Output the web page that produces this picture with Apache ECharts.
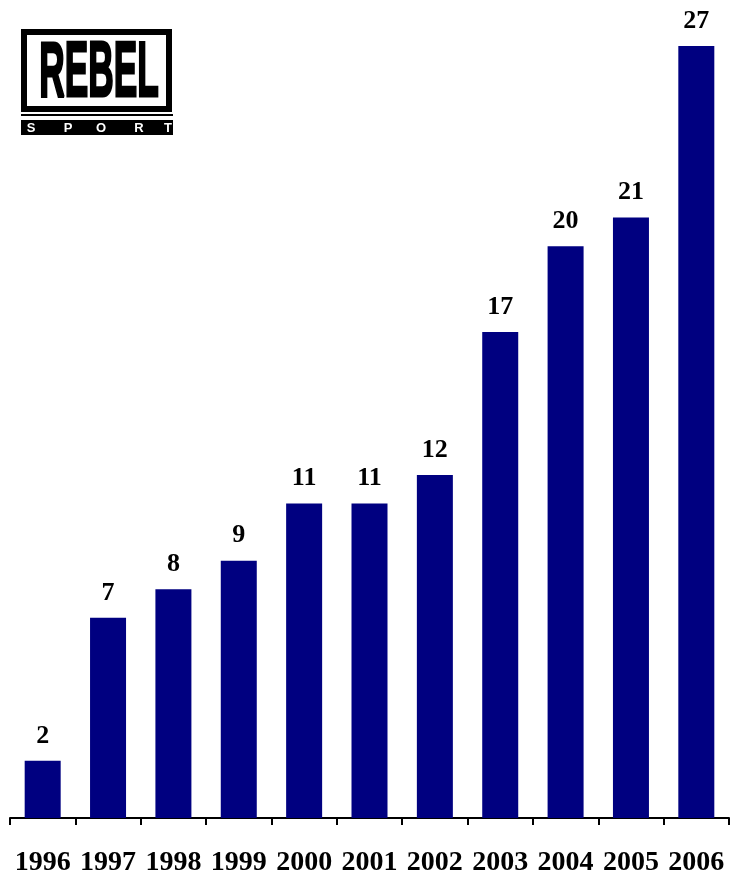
<!DOCTYPE html>
<html>
<head>
<meta charset="utf-8">
<script src="https://cdn.jsdelivr.net/npm/echarts@6/dist/echarts.min.js"></script>
<style>
html,body{margin:0;padding:0;background:#fff;}
#main{width:731px;height:877px;}
</style>
</head>
<body>
<div id="main"></div>
<script>
var years = ['1996','1997','1998','1999','2000','2001','2002','2003','2004','2005','2006'];
var values = [2, 7, 8, 9, 11, 11, 12, 17, 20, 21, 27];
var logoTitle = 'REBEL';
var logoSub = ['S','P','O','R','T'];

var chart = echarts.init(document.getElementById('main'));
var serif = '"Liberation Serif", "DejaVu Serif", serif';

var subTexts = [];
var subX = [31, 68, 101, 139, 168];
for (var i = 0; i < logoSub.length; i++) {
  subTexts.push({
    type: 'text', x: subX[i], y: 128, z: 12,
    style: {text: logoSub[i], fill: '#fff', font: 'bold 13px "Liberation Sans", Arial, sans-serif', textAlign: 'center', textVerticalAlign: 'middle'}
  });
}

chart.setOption({
  backgroundColor: '#fff',
  animation: false,
  grid: {left: 10, right: 2, top: 46, bottom: 58, containLabel: false},
  xAxis: {
    type: 'category',
    data: years,
    boundaryGap: true,
    axisLine: {show: true, lineStyle: {color: '#000', width: 2}},
    axisTick: {show: true, length: 7, lineStyle: {color: '#000', width: 2}},
    axisLabel: {color: '#000', fontFamily: serif, fontWeight: 'bold', fontSize: 28, margin: 31, interval: 0}
  },
  yAxis: {
    type: 'value', min: 0, max: 27, show: false, splitLine: {show: false}
  },
  series: [{
    type: 'bar',
    data: values,
    barWidth: 36,
    itemStyle: {color: '#000080'},
    label: {show: true, position: 'top', distance: 12, color: '#000', fontFamily: serif, fontWeight: 'bold', fontSize: 26}
  }],
  graphic: [
    {type: 'rect', z: 10, shape: {x: 24, y: 32, width: 145, height: 77}, style: {fill: '#fff', stroke: '#000', lineWidth: 6}},
    {type: 'text', z: 11, x: 99, y: 75, scaleX: 0.44, scaleY: 0.97,
     style: {text: logoTitle, fill: '#000', stroke: '#000', lineWidth: 3, font: 'bold 80px "Liberation Sans", Arial, sans-serif', textAlign: 'center', textVerticalAlign: 'middle'}},
    {type: 'rect', z: 10, shape: {x: 21, y: 114, width: 152, height: 2}, style: {fill: '#000'}},
    {type: 'rect', z: 10, shape: {x: 21, y: 120, width: 152, height: 15}, style: {fill: '#000'}}
  ].concat(subTexts)
});
</script>
</body>
</html>
